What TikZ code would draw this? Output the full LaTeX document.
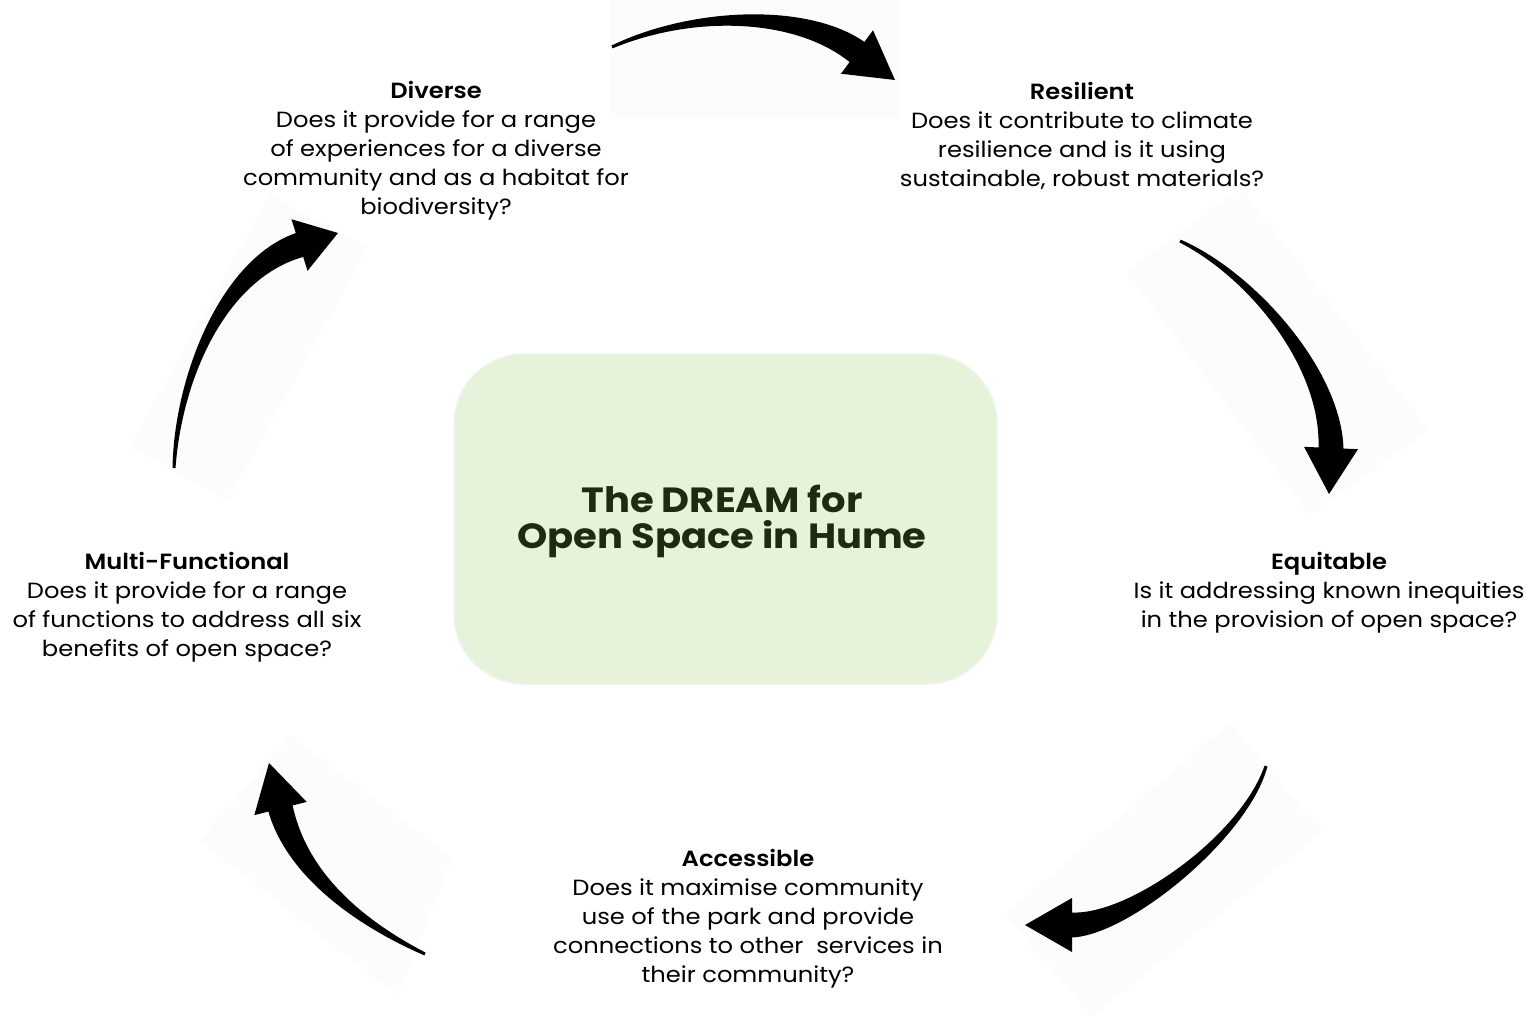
\documentclass[tikz,border=0pt]{standalone}
\usepackage{fontspec}
\setmainfont{Poppins}[FakeStretch=1.1, BoldFont={Poppins SemiBold}]
\newfontfamily\titlefont{Poppins Bold}[FakeStretch=1.1]
\usetikzlibrary{calc}
\definecolor{boxgreen}{HTML}{E7F2DA}
\definecolor{boxedge}{HTML}{EEF4EE}
\definecolor{titleink}{HTML}{1F2A12}
\definecolor{artbg}{HTML}{FCFCFC}

\tikzset{
  qtext/.style={align=center, font=\fontsize{22}{29}\selectfont, text=black, inner sep=0pt},
  titletext/.style={align=center, font=\fontsize{35}{36}\selectfont\titlefont, text=titleink, inner sep=0pt},
  arrowbody/.style={fill=black},
  artpatch/.style={fill=artbg, draw=none},
  dreambox/.style={fill=boxgreen, draw=boxedge, line width=1.5pt, rounded corners=70pt},
}

% Tapered curved arrow from the coordinates <p>t (tail), <p>c, <p>d (controls),
% <p>s (centre of the head base) and <p>p (tip)
\newcommand\flowarrow[1]{%
  \path ($(#1s)!12.5pt!90:(#1p)$) coordinate (#1sl)
        ($(#1s)!12.5pt!-90:(#1p)$) coordinate (#1sr)
        ($(#1s)!27pt!90:(#1p)$) coordinate (#1hl)
        ($(#1s)!27pt!-90:(#1p)$) coordinate (#1hr)
        ($(#1t)!1.5pt!90:(#1c)$) coordinate (#1tl)
        ($(#1t)!1.5pt!-90:(#1c)$) coordinate (#1tr)
        ($(#1c)!4pt!-90:(#1t)$) coordinate (#1cl)
        ($(#1c)!4pt!90:(#1t)$) coordinate (#1cr);
  \fill[arrowbody] (#1tl) .. controls (#1cl) and ($(#1d)+0.8*(#1sl)-0.8*(#1s)$) .. (#1sl)
     -- (#1hl) -- (#1p) -- (#1hr) -- (#1sr)
     .. controls ($(#1d)+0.8*(#1sr)-0.8*(#1s)$) and (#1cr) .. (#1tr) -- cycle;
}

\begin{document}
\begin{tikzpicture}[x=1pt, y=-1pt]
  \fill[white] (0,0) rectangle (1533,1016);
  \useasboundingbox (0,0) rectangle (1533,1016);

  % faint patches behind the arrows
  \fill[artpatch] (610,0) -- (900,0) -- (900,118) -- (610,118) -- cycle;
  \fill[artpatch] (1127,272) -- (1240,188) -- (1428,430) -- (1310,515) -- cycle;
  \fill[artpatch] (1230,723) -- (1322,832) -- (1092,1016) -- (1005,915) -- cycle;
  \fill[artpatch] (200,840) -- (290,735) -- (452,858) -- (397,995) -- cycle;
  \fill[artpatch] (130,447) -- (270,195) -- (368,247) -- (228,500) -- cycle;

  % centre panel
  \draw[dreambox] (454,354) rectangle (997,684);
  \node[titletext] (dream) at (722,521) {The DREAM for\\Open Space in Hume};

  % the five questions
  \node[qtext] (diverse) at (436,150.5) {\textbf{Diverse}\\Does it provide for a range\\of experiences for a diverse\\community and as a habitat for\\biodiversity?};
  \node[qtext] (resilient) at (1082,136) {\textbf{Resilient}\\Does it contribute to climate\\resilience and is it using\\sustainable, robust materials?};
  \node[qtext] (equitable) at (1329,593) {\textbf{Equitable}\\Is it addressing known inequities\\in the provision of open space?};
  \node[qtext] (accessible) at (748,918.5) {\textbf{Accessible}\\Does it maximise community\\use of the park and provide\\connections to other\ \ services in\\their community?};
  \node[qtext] (multi) at (187,607.5) {\textbf{Multi-Functional}\\Does it provide for a range\\of functions to address all six\\benefits of open space?};

  % arrows of the cycle
  \coordinate (at) at (612,47);   \coordinate (ac) at (692,11);
  \coordinate (ad) at (801,10);   \coordinate (as) at (857,52);
  \coordinate (ap) at (895,80);
  \flowarrow{a}

  \coordinate (bt) at (1180,241); \coordinate (bc) at (1252,275);
  \coordinate (bd) at (1331,368); \coordinate (bs) at (1331,448);
  \coordinate (bp) at (1329,494);
  \flowarrow{b}

  \coordinate (ct) at (1266,766); \coordinate (cc) at (1245,836);
  \coordinate (cd) at (1130,925); \coordinate (cs) at (1072,925);
  \coordinate (cp) at (1025,925);
  \flowarrow{c}

  \coordinate (dt) at (425,954);  \coordinate (dc) at (362,924);
  \coordinate (dd) at (297.6,876.4); \coordinate (ds) at (280.5,808.5);
  \coordinate (dp) at (269,763);
  \flowarrow{d}

  \coordinate (et) at (174,468);  \coordinate (ec) at (178,378);
  \coordinate (ed) at (223,269);  \coordinate (es) at (299.5,245);
  \coordinate (ep) at (338,233);
  \flowarrow{e}
\end{tikzpicture}
\end{document}
